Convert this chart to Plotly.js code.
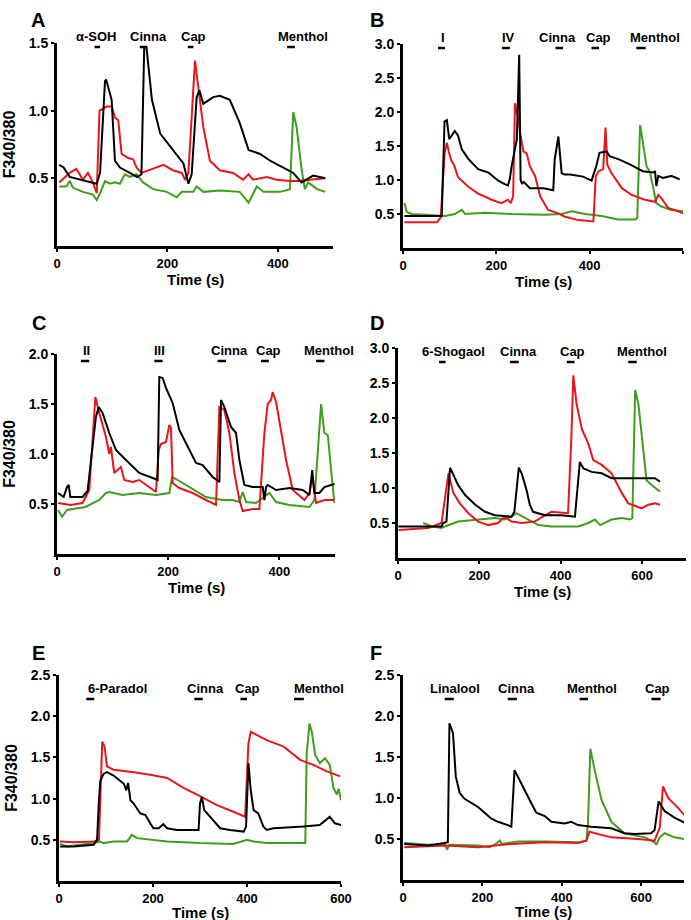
<!DOCTYPE html>
<html>
<head>
<meta charset="utf-8">
<script src="https://cdn.plot.ly/plotly-3.0.1.min.js"></script>
<style>html,body{margin:0;padding:0;background:#fff;}#chart{width:691px;height:920px;}</style>
</head>
<body>
<div id="chart"></div>
<script>
// ---------- Panel A ----------
const aBlackT = [4,12,23,42,72,78,87,89,99,105,114,132,145,153,158,162,172,187,210,229,238,244,253,258,265,283,295,313,331,347,368,386,410,428,443,464,486];
const aBlackV = [0.6,0.58,0.51,0.49,0.46,0.54,1.22,1.23,1.08,0.63,0.58,0.54,0.51,0.53,1.47,1.47,1.08,0.83,0.71,0.61,0.46,0.53,1.1,1.15,1.05,1.1,1.11,1.08,0.91,0.71,0.68,0.63,0.58,0.54,0.47,0.52,0.5];
const aRedT = [4,23,35,47,56,65,72,77,90,99,105,111,117,129,138,144,153,174,193,210,226,232,238,250,256,265,277,295,319,337,347,355,380,398,422,440,458,486];
const aRedV = [0.47,0.54,0.57,0.49,0.54,0.47,0.39,1.0,1.03,1.03,0.95,0.93,0.68,0.65,0.64,0.58,0.54,0.57,0.6,0.56,0.54,0.49,0.54,1.37,1.17,0.88,0.63,0.56,0.54,0.49,0.53,0.49,0.51,0.49,0.48,0.48,0.49,0.5];
const aGreenT = [4,17,23,29,47,65,72,78,87,96,105,114,123,132,144,156,174,199,217,226,247,253,265,295,331,347,362,374,404,422,428,434,443,449,455,471,486];
const aGreenV = [0.44,0.44,0.48,0.43,0.4,0.38,0.34,0.39,0.48,0.46,0.47,0.46,0.53,0.51,0.53,0.47,0.42,0.4,0.36,0.4,0.4,0.44,0.4,0.41,0.4,0.32,0.44,0.4,0.4,0.42,0.99,0.88,0.57,0.42,0.47,0.42,0.4];
const aStimNames = ['α-SOH','Cinna','Cap','Menthol'];
const aStimStart = [68,150,237,417];
const aStimEnd = [78,163,247,431];
const aStimLabelT = [72,166,247,446];

// ---------- Panel B ----------
const bBlackT = [3,83,89,94,99,104,111,118,126,140,161,183,204,218,225,229,233,244,249,252,255,259,272,301,322,325,333,340,347,358,386,404,414,421,436,443,464,486,500,514,536,540,543,547,557,575,593];
const bBlackV = [0.47,0.47,1.86,1.88,1.6,1.65,1.72,1.65,1.45,1.31,1.16,1.11,0.99,0.94,0.92,1.02,1.21,1.6,2.84,1.0,0.95,0.97,0.88,0.88,0.85,1.3,1.64,1.1,1.08,1.08,1.05,0.99,1.2,1.4,1.42,1.35,1.3,1.23,1.18,1.13,1.11,1.13,0.91,1.06,1.03,1.06,1.01];
const bRedT = [3,73,81,89,94,98,104,109,118,140,161,190,211,225,231,236,240,246,251,258,265,272,283,294,311,333,347,376,408,413,419,429,434,438,447,469,490,518,540,547,554,568,590,600];
const bRedV = [0.38,0.38,0.45,1.39,1.55,1.42,1.28,1.23,1.04,0.9,0.8,0.71,0.66,0.71,0.66,0.76,2.13,1.93,1.69,1.42,1.39,1.2,1.06,0.76,0.56,0.51,0.46,0.41,0.39,1.05,1.13,1.16,1.77,1.22,1.1,0.88,0.78,0.71,0.68,0.78,0.73,0.59,0.54,0.51];
const bGreenT = [3,8,19,90,111,126,133,176,233,304,340,361,390,426,461,497,502,508,511,522,529,536,543,554,575,600];
const bGreenV = [0.66,0.53,0.5,0.47,0.5,0.56,0.5,0.52,0.5,0.49,0.5,0.54,0.5,0.47,0.42,0.42,0.44,1.81,1.68,1.2,1.12,0.9,0.66,0.61,0.56,0.54];
const bStimNames = ['I','IV','Cinna','Cap','Menthol'];
const bStimStart = [75,212,327,404,500];
const bStimEnd = [90,229,343,420,520];
const bStimLabelT = [85,226,330,419,539];

// ---------- Panel C ----------
const cBlackT = [2,12,18,21,24,46,55,70,75,82,94,106,124,148,172,181,184,190,196,208,220,238,250,262,280,292,295,301,313,322,328,337,352,370,373,376,379,394,418,442,454,459,463,472,481,499];
const cBlackV = [0.61,0.57,0.67,0.69,0.57,0.57,0.63,1.37,1.47,1.41,1.21,1.04,0.94,0.81,0.76,0.74,1.77,1.76,1.66,1.51,1.24,1.04,0.91,0.89,0.77,0.72,1.54,1.47,1.27,1.21,0.94,0.69,0.67,0.67,0.54,0.67,0.69,0.64,0.66,0.64,0.59,0.84,0.61,0.61,0.67,0.7];
const cRedT = [2,24,46,58,69,76,88,94,97,103,109,115,121,136,148,160,172,178,183,187,196,202,205,208,220,244,268,286,292,301,310,319,328,334,352,364,373,379,385,388,394,403,412,424,445,454,459,466,481,499];
const cRedV = [0.51,0.49,0.51,0.64,1.57,1.41,1.17,1.0,1.07,0.81,0.84,0.87,0.74,0.72,0.74,0.69,0.64,0.62,1.04,1.1,1.12,1.29,1.26,0.71,0.66,0.61,0.54,0.49,1.47,1.44,1.21,0.81,0.54,0.43,0.45,0.45,1.21,1.5,1.54,1.62,1.52,1.24,0.94,0.64,0.54,0.61,0.77,0.51,0.54,0.54];
const cGreenT = [2,9,18,51,76,88,94,118,148,178,202,207,214,238,268,298,316,328,334,340,358,382,394,418,454,463,475,481,487,496,499];
const cGreenV = [0.44,0.37,0.44,0.47,0.54,0.61,0.62,0.59,0.61,0.59,0.61,0.77,0.75,0.67,0.57,0.54,0.54,0.52,0.62,0.52,0.51,0.61,0.52,0.49,0.47,0.54,1.5,1.21,1.19,0.67,0.51];
const cStimNames = ['II','III','Cinna','Cap','Menthol'];
const cStimStart = [43,175,289,367,466];
const cStimEnd = [58,190,304,381,481];
const cStimLabelT = [53,184,310,381,490];

// ---------- Panel D ----------
const dBlackT = [1,107,111,119,128,136,148,165,190,214,238,279,286,297,304,316,324,332,361,402,435,439,447,456,476,501,525,566,607,632,644];
const dBlackV = [0.45,0.45,0.5,0.52,1.29,1.18,1.04,0.9,0.76,0.66,0.61,0.59,0.66,1.29,1.21,0.97,0.76,0.66,0.61,0.61,0.59,0.85,1.37,1.28,1.23,1.21,1.14,1.14,1.14,1.14,1.09];
const dRedT = [1,74,107,115,124,136,152,173,197,222,246,262,279,304,336,361,377,418,426,431,439,452,468,480,501,525,550,566,583,599,615,632,644];
const dRedV = [0.4,0.43,0.5,0.83,1.21,0.93,0.78,0.64,0.52,0.47,0.5,0.59,0.52,0.5,0.52,0.61,0.66,0.64,1.69,2.61,2.2,1.84,1.63,1.4,1.33,1.21,0.93,0.78,0.74,0.71,0.76,0.78,0.76];
const dGreenT = [62,83,107,115,148,197,238,262,279,291,312,345,377,443,468,484,497,509,525,550,570,576,583,591,603,611,624,644];
const dGreenV = [0.5,0.45,0.43,0.45,0.52,0.55,0.57,0.55,0.59,0.64,0.57,0.47,0.45,0.45,0.5,0.55,0.47,0.5,0.55,0.57,0.55,0.57,2.4,2.2,1.54,1.11,1.04,0.95];
const dStimNames = ['6-Shogaol','Cinna','Cap','Menthol'];
const dStimStart = [101,275,415,566];
const dStimEnd = [117,297,434,587];
const dStimLabelT = [136,297,428,599];

// ---------- Panel E ----------
const eBlackT = [2,31,74,81,85,88,95,102,116,138,143,147,152,159,173,184,194,201,212,222,230,251,272,297,300,304,309,318,329,343,364,393,398,403,408,414,424,435,442,456,484,520,555,576,587,600];
const eBlackV = [0.42,0.42,0.44,0.5,0.98,1.22,1.3,1.32,1.28,1.18,1.1,1.19,0.98,0.94,0.82,0.8,0.7,0.64,0.64,0.69,0.64,0.62,0.62,0.62,0.94,1.02,0.86,0.8,0.72,0.64,0.62,0.6,0.66,1.43,1.1,0.86,0.82,0.66,0.62,0.64,0.65,0.66,0.68,0.78,0.7,0.68];
const eRedT = [2,31,74,85,92,97,102,116,159,194,230,265,300,336,371,396,403,408,442,478,513,541,570,598];
const eRedV = [0.48,0.47,0.48,0.5,1.69,1.63,1.39,1.35,1.32,1.29,1.25,1.13,1.03,0.92,0.84,0.78,1.67,1.81,1.71,1.63,1.47,1.41,1.33,1.27];
const eGreenT = [2,17,74,88,95,116,145,155,166,194,230,300,371,400,414,442,478,524,527,533,538,545,555,566,576,584,591,595,600];
const eGreenV = [0.45,0.42,0.46,0.48,0.46,0.48,0.48,0.56,0.52,0.5,0.48,0.46,0.45,0.5,0.48,0.46,0.46,0.46,1.55,1.91,1.81,1.53,1.43,1.49,1.41,1.13,1.05,1.12,0.98];
const eStimNames = ['6-Paradol','Cinna','Cap','Menthol'];
const eStimStart = [58,288,386,500];
const eStimEnd = [75,306,400,521];
const eStimLabelT = [125,311,402,553];

// ---------- Panel F ----------
const fBlackT = [3,63,105,113,117,126,133,143,155,189,222,239,264,273,281,290,306,323,336,357,374,407,424,441,474,525,558,583,625,634,644,659,684,709];
const fBlackV = [0.44,0.42,0.45,0.46,1.91,1.79,1.26,1.06,0.99,0.89,0.75,0.71,0.67,0.65,1.34,1.26,1.1,0.94,0.82,0.78,0.71,0.69,0.71,0.67,0.65,0.63,0.57,0.56,0.57,0.61,0.96,0.84,0.76,0.7];
const fRedT = [3,105,189,273,357,441,462,470,491,525,592,634,647,655,668,693,709];
const fRedV = [0.4,0.42,0.4,0.44,0.46,0.45,0.48,0.59,0.56,0.52,0.5,0.48,0.64,1.14,1.0,0.88,0.79];
const fGreenT = [3,63,105,111,117,189,218,231,244,248,290,357,441,462,466,472,483,500,525,558,609,634,638,647,659,684,709];
const fGreenV = [0.45,0.43,0.43,0.37,0.43,0.42,0.4,0.43,0.48,0.44,0.47,0.47,0.46,0.48,0.68,1.6,1.34,0.98,0.71,0.57,0.52,0.46,0.43,0.52,0.57,0.52,0.5];
const fStimNames = ['Linalool','Cinna','Menthol','Cap'];
const fStimStart = [105,264,445,626];
const fStimEnd = [128,287,466,649];
const fStimLabelT = [130,286,475,642];

// tick labels
const yTicksA = [0.5,1.0,1.5];
const yTicksB = [0.5,1.0,1.5,2.0,2.5,3.0];
const yTicksC = [0.5,1.0,1.5,2.0];
const yTicksD = [0.5,1.0,1.5,2.0,2.5,3.0];
const yTicksE = [0.5,1.0,1.5,2.0,2.5];
const yTicksF = [0.5,1.0,1.5,2.0,2.5];
const xTicksAC = [0,200,400];
const xTicksBDEF = [0,200,400,600];
const panelLetters = ['A','B','C','D','E','F'];
const xTitleText = 'Time (s)';
const yTitleText = 'F340/380';

// ---------- layout geometry (pixels) ----------
const W = 691, H = 920;
const FONT = 'Liberation Sans, Arial, sans-serif';
const BLACK = '#000000', RED = '#e8161c', GREEN = '#3d9e1c';

const panels = [
  {box:[57,333,43,246], xr:[0,500], yr:[0,1.5], yt:yTicksA, xt:xTicksAC, ytitle:true, barOff:4, xTitleGap:23,
   k:[aGreenT,aGreenV,aRedT,aRedV,aBlackT,aBlackV], s:[aStimNames,aStimStart,aStimEnd,aStimLabelT], letter:[29,7]},
  {box:[403,683,44,248], xr:[0,600], yr:[0,3], yt:yTicksB, xt:xTicksBDEF, ytitle:false, barOff:4, xTitleGap:23,
   k:[bGreenT,bGreenV,bRedT,bRedV,bBlackT,bBlackV], s:[bStimNames,bStimStart,bStimEnd,bStimLabelT], letter:[368,7]},
  {box:[57,335,354,554], xr:[0,500], yr:[0,2], yt:yTicksC, xt:xTicksAC, ytitle:true, barOff:7, xTitleGap:23,
   k:[cGreenT,cGreenV,cRedT,cRedV,cBlackT,cBlackV], s:[cStimNames,cStimStart,cStimEnd,cStimLabelT], letter:[30,310]},
  {box:[398,686,348,558], xr:[0,708], yr:[0,3], yt:yTicksD, xt:xTicksBDEF, ytitle:false, barOff:14, xTitleGap:23,
   k:[dGreenT,dGreenV,dRedT,dRedV,dBlackT,dBlackV], s:[dStimNames,dStimStart,dStimEnd,dStimLabelT], letter:[368,310]},
  {box:[59,341,675,881], xr:[0,600], yr:[0,2.5], yt:yTicksE, xt:xTicksBDEF, ytitle:true, barOff:24, xTitleGap:21,
   k:[eGreenT,eGreenV,eRedT,eRedV,eBlackT,eBlackV], s:[eStimNames,eStimStart,eStimEnd,eStimLabelT], letter:[30,640]},
  {box:[403,684,675,880], xr:[0,708], yr:[0,2.5], yt:yTicksF, xt:xTicksBDEF, ytitle:false, barOff:24, xTitleGap:21,
   k:[fGreenT,fGreenV,fRedT,fRedV,fBlackT,fBlackV], s:[fStimNames,fStimStart,fStimEnd,fStimLabelT], letter:[368,640]}
];

const data = [];
const layout = {
  width: W, height: H,
  margin: {l:0, r:0, t:0, b:0},
  paper_bgcolor: '#ffffff', plot_bgcolor: 'rgba(0,0,0,0)',
  showlegend: false,
  font: {family: FONT, color: '#000', size: 13},
  shapes: [], annotations: []
};

panels.forEach((p, i) => {
  const n = i === 0 ? '' : String(i + 1);
  const xa = 'x' + n, ya = 'y' + n;
  const colors = [GREEN, RED, BLACK];
  for (let c = 0; c < 3; c++) {
    data.push({
      type: 'scatter', mode: 'lines', x: p.k[c*2], y: p.k[c*2+1],
      xaxis: xa, yaxis: ya, line: {color: colors[c], width: 2},
      hoverinfo: 'skip'
    });
  }
  const [l, r, t, b] = p.box;
  const hPx = b - t;
  layout['xaxis' + n] = {
    domain: [l / W, r / W], range: p.xr, anchor: ya,
    showline: true, linewidth: 3, linecolor: '#000',
    ticks: 'outside', ticklen: 3, tickwidth: 2, tickcolor: '#000',
    tickvals: p.xt, ticktext: p.xt.map(v => String(v)),
    tickfont: {family: FONT, size: 13, weight: 700},
    showgrid: false, zeroline: false, fixedrange: true,
    title: {text: ''}
  };
  layout['yaxis' + n] = {
    domain: [1 - b / H, 1 - t / H], range: p.yr, anchor: xa,
    showline: true, linewidth: 3, linecolor: '#000',
    ticks: 'outside', ticklen: 3, tickwidth: 2, tickcolor: '#000',
    tickvals: p.yt, ticktext: p.yt.map(v => v.toFixed(1)),
    tickfont: {family: FONT, size: 14, weight: 700},
    showgrid: false, zeroline: false, fixedrange: true,
    title: p.ytitle ? {text: yTitleText, font: {family: FONT, size: 16, weight: 700}, standoff: 10} : {text: ''}
  };
  // x-axis title placed just below the tick labels
  layout.annotations.push({
    xref: xa + ' domain', yref: ya + ' domain', x: 0.5, y: 0,
    xanchor: 'center', yanchor: 'top', yshift: -p.xTitleGap,
    text: xTitleText, showarrow: false,
    font: {family: FONT, size: 15, weight: 700, color: '#000'}
  });
  const barY = 1 - p.barOff / hPx;
  const [names, st, en, lt] = p.s;
  names.forEach((nm, j) => {
    layout.shapes.push({
      type: 'line', xref: xa, yref: ya + ' domain',
      x0: st[j], x1: en[j], y0: barY, y1: barY,
      line: {color: '#000', width: 2.5}
    });
    layout.annotations.push({
      xref: xa, yref: ya + ' domain', x: lt[j], y: barY,
      yanchor: 'bottom', xanchor: 'center', yshift: 1,
      text: nm, showarrow: false,
      font: {family: FONT, size: 13, weight: 700, color: '#000'}
    });
  });
  layout.annotations.push({
    xref: 'paper', yref: 'paper',
    x: p.letter[0] / W, y: 1 - p.letter[1] / H,
    xanchor: 'left', yanchor: 'top',
    text: panelLetters[i], showarrow: false,
    font: {family: FONT, size: 20, weight: 700, color: '#000'}
  });
});

Plotly.newPlot('chart', data, layout, {staticPlot: true, displayModeBar: false});
</script>
</body>
</html>
